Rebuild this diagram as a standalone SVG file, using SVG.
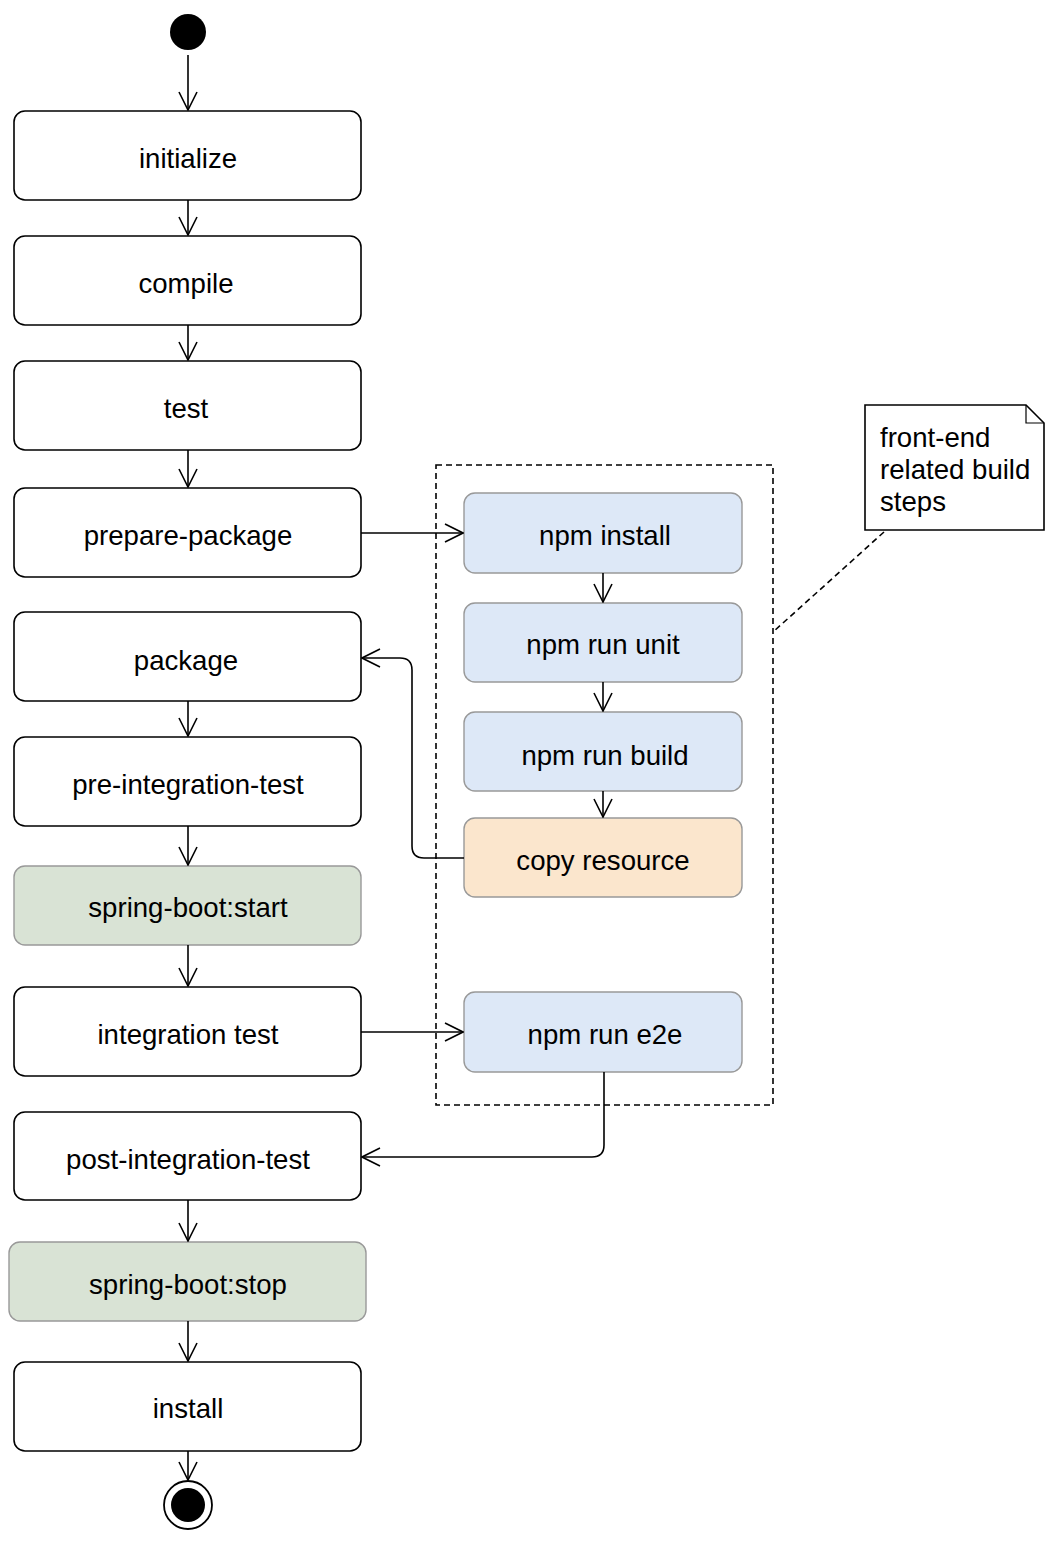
<svg xmlns="http://www.w3.org/2000/svg" width="1058" height="1542" viewBox="0 0 1058 1542">
<defs>
<marker id="arr" viewBox="0 0 20 20" refX="19" refY="10" markerWidth="20" markerHeight="20" markerUnits="userSpaceOnUse" orient="auto">
<path d="M1,1 L19,10 L1,19" fill="none" stroke="#000" stroke-width="1.6"/>
</marker>
</defs>
<style>
.n{fill:#fff;stroke:#000;stroke-width:1.6}
.b{fill:#dde8f7;stroke:#999;stroke-width:1.4}
.o{fill:#fbe6cd;stroke:#999;stroke-width:1.4}
.g{fill:#d9e3d5;stroke:#999;stroke-width:1.4}
text{font-family:"Liberation Sans",Arial,Helvetica,sans-serif;font-size:27.6px;fill:#000}
.c{text-anchor:middle}
.e{fill:none;stroke:#000;stroke-width:1.6;marker-end:url(#arr)}
.d{fill:none;stroke:#000;stroke-width:1.6;stroke-dasharray:6,4}
</style>
<rect width="1058" height="1542" fill="#fff"/>
<g id="frontend-group"><rect x="436" y="465" width="337" height="640" class="d"/></g>
<g id="start"><circle cx="188" cy="32" r="18" fill="#000"/></g>
<g id="initialize"><rect class="n" x="14" y="111" width="347" height="89" rx="11"/><text class="c" x="188" y="168">initialize</text></g>
<g id="compile"><rect class="n" x="14" y="236" width="347" height="89" rx="11"/><text class="c" x="186" y="293">compile</text></g>
<g id="test"><rect class="n" x="14" y="361" width="347" height="89" rx="11"/><text class="c" x="186" y="418">test</text></g>
<g id="prepare-package"><rect class="n" x="14" y="488" width="347" height="89" rx="11"/><text class="c" x="188" y="545">prepare-package</text></g>
<g id="package"><rect class="n" x="14" y="612" width="347" height="89" rx="11"/><text class="c" x="186" y="670">package</text></g>
<g id="pre-integration-test"><rect class="n" x="14" y="737" width="347" height="89" rx="11"/><text class="c" x="188" y="794">pre-integration-test</text></g>
<g id="spring-boot-start"><rect class="g" x="14" y="866" width="347" height="79" rx="11"/><text class="c" x="188" y="917">spring-boot:start</text></g>
<g id="integration-test"><rect class="n" x="14" y="987" width="347" height="89" rx="11"/><text class="c" x="188" y="1044">integration test</text></g>
<g id="post-integration-test"><rect class="n" x="14" y="1112" width="347" height="88" rx="11"/><text class="c" x="188" y="1169">post-integration-test</text></g>
<g id="spring-boot-stop"><rect class="g" x="9" y="1242" width="357" height="79" rx="11"/><text class="c" x="188" y="1294">spring-boot:stop</text></g>
<g id="install"><rect class="n" x="14" y="1362" width="347" height="89" rx="11"/><text class="c" x="188" y="1418">install</text></g>
<g id="end"><circle cx="188" cy="1505" r="24" fill="#fff" stroke="#000" stroke-width="1.8"/><circle cx="188" cy="1505" r="17" fill="#000"/></g>
<g id="npm-install"><rect class="b" x="464" y="493" width="278" height="80" rx="11"/><text class="c" x="605" y="545">npm install</text></g>
<g id="npm-run-unit"><rect class="b" x="464" y="603" width="278" height="79" rx="11"/><text class="c" x="603" y="654">npm run unit</text></g>
<g id="npm-run-build"><rect class="b" x="464" y="712" width="278" height="79" rx="11"/><text class="c" x="605" y="765">npm run build</text></g>
<g id="copy-resource"><rect class="o" x="464" y="818" width="278" height="79" rx="11"/><text class="c" x="603" y="870">copy resource</text></g>
<g id="npm-run-e2e"><rect class="b" x="464" y="992" width="278" height="80" rx="11"/><text class="c" x="605" y="1044">npm run e2e</text></g>
<g id="note"><path d="M865,405 H1026 L1044,423 V530 H865 Z" fill="#fff" stroke="#000" stroke-width="1.6"/><path d="M1026,405 V423 H1044" fill="none" stroke="#000" stroke-width="1.2"/>
<text x="880" y="447" font-size="26.4">front-end</text><text x="880" y="479" font-size="26.4">related build</text><text x="880" y="511" font-size="26.4">steps</text></g>
<g id="connectors">
<path class="e" d="M188,55 V110"/>
<path class="e" d="M188,200 V235"/>
<path class="e" d="M188,325 V360"/>
<path class="e" d="M188,450 V487"/>
<path class="e" d="M188,701 V736"/>
<path class="e" d="M188,826 V865"/>
<path class="e" d="M188,945 V986"/>
<path class="e" d="M188,1200 V1241"/>
<path class="e" d="M188,1321 V1361"/>
<path class="e" d="M188,1451 V1480"/>
<path class="e" d="M361,533 H463"/>
<path class="e" d="M361,1032 H463"/>
<path class="e" d="M603,573 V602"/>
<path class="e" d="M603,682 V711"/>
<path class="e" d="M603,791 V817"/>
<path class="e" d="M464,858 H424 Q412,858 412,846 V670 Q412,658 400,658 H362"/>
<path class="e" d="M604,1072 V1145 Q604,1157 592,1157 H362"/>
<path class="d" d="M884,532 L773,632" stroke-dasharray="6,5"/>
</g>
</svg>
